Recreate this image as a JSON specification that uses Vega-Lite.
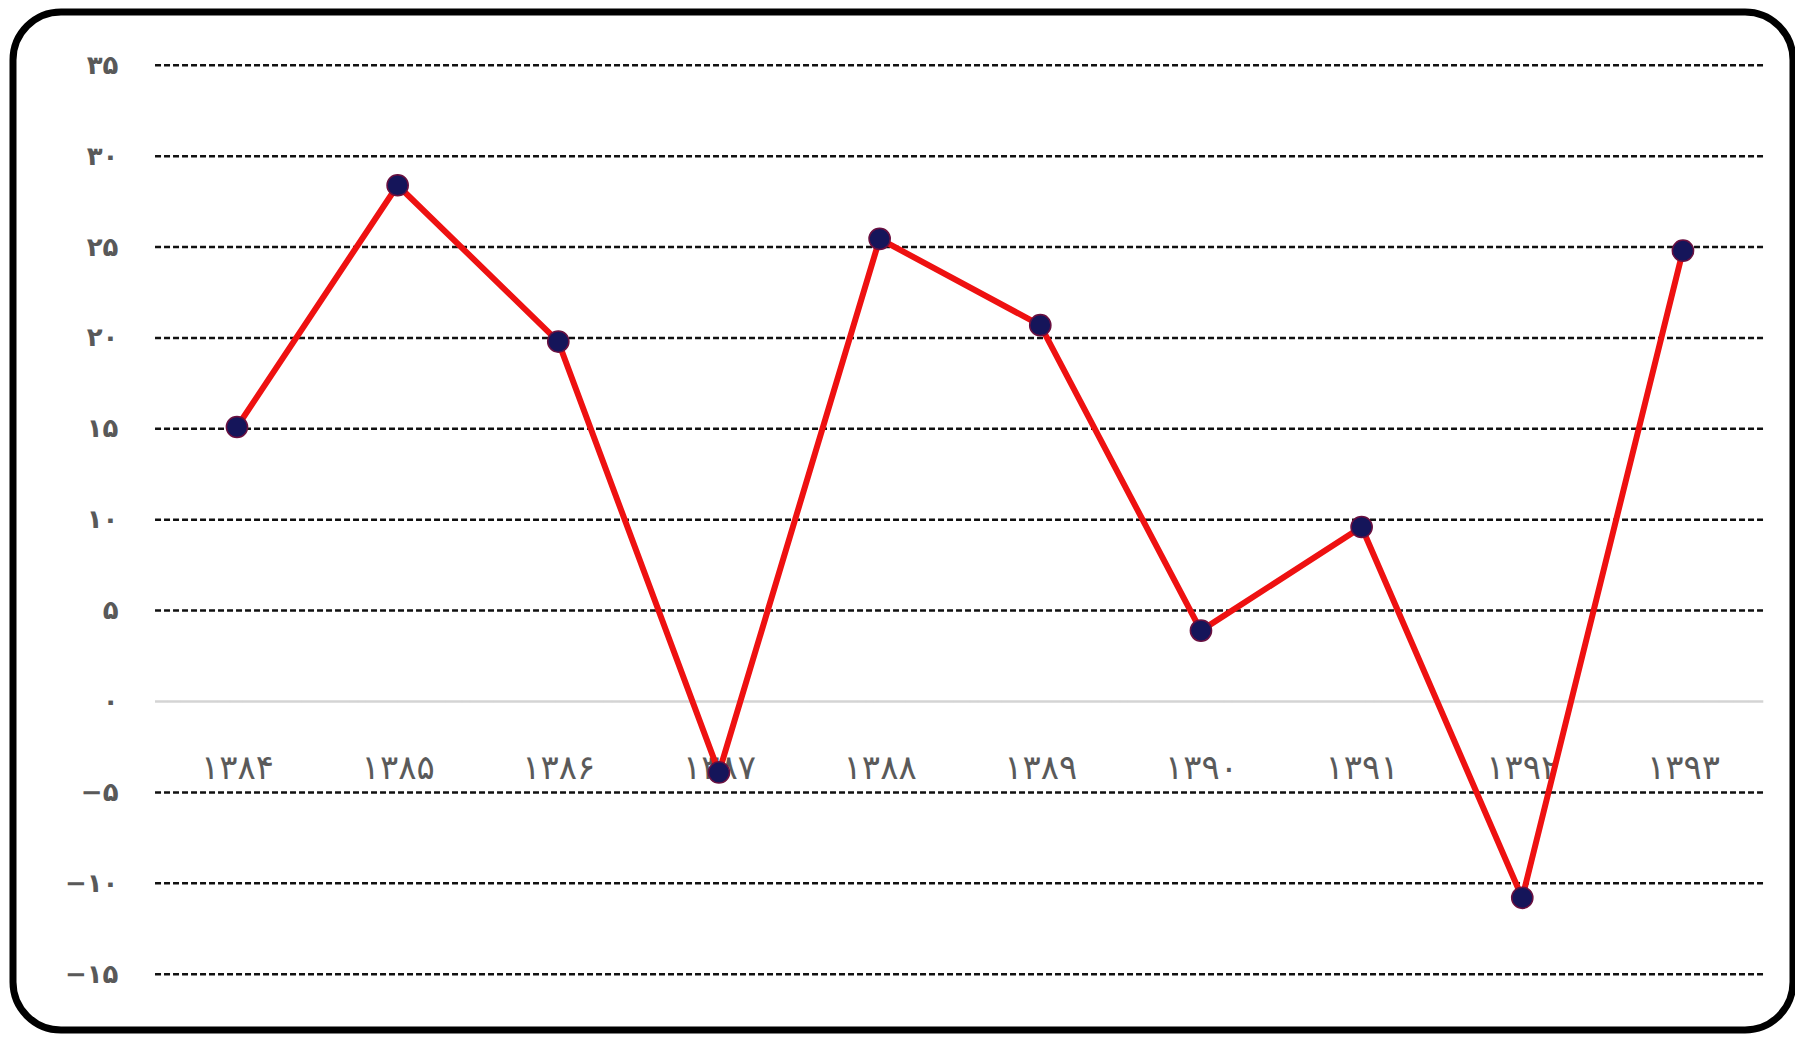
{
  "$schema": "https://vega.github.io/schema/vega-lite/v6.json",
  "width": 1780,
  "height": 1018,
  "autosize": "none",
  "padding": {"left": 13, "top": 12, "right": 2, "bottom": 11},
  "background": "white",
  "config": {
    "view": {"stroke": "#000000", "strokeWidth": 7, "cornerRadius": 48, "fill": "white"},
    "font": "DejaVu Sans",
    "axisX": {
      "orient": "bottom", "offset": -262, "values": [1384, 1385, 1386, 1387, 1388, 1389, 1390, 1391, 1392, 1393],
      "format": "d", "title": null, "domain": false, "ticks": false, "tickSize": 0, "grid": false,
      "labelPadding": 0, "labelBaseline": "middle", "labelFontSize": 34, "labelColor": "#5a5a5a",
      "labelFont": "DejaVu Sans", "labelFlush": false, "labelOverlap": false
    },
    "axisY": {
      "orient": "left", "offset": -108, "values": [-15, -10, -5, 0, 5, 10, 15, 20, 25, 30, 35],
      "title": null, "domain": false, "ticks": false, "tickSize": 0, "grid": false,
      "labelPadding": 3, "labelFontSize": 26, "labelFontWeight": "bold", "labelColor": "#595959",
      "labelFont": "DejaVu Sans", "labelOverlap": false, "labelFlush": false
    }
  },
  "datasets": {
    "series": [
      {"year": 1384, "value": 15.1},
      {"year": 1385, "value": 28.4},
      {"year": 1386, "value": 19.8},
      {"year": 1387, "value": -3.9},
      {"year": 1388, "value": 25.45},
      {"year": 1389, "value": 20.7},
      {"year": 1390, "value": 3.9},
      {"year": 1391, "value": 9.6},
      {"year": 1392, "value": -10.8},
      {"year": 1393, "value": 24.8}
    ],
    "grid": [
      {"v": 35, "from": 1383.49, "to": 1393.5, "kind": "dash"},
      {"v": 30, "from": 1383.49, "to": 1393.5, "kind": "dash"},
      {"v": 25, "from": 1383.49, "to": 1393.5, "kind": "dash"},
      {"v": 20, "from": 1383.49, "to": 1393.5, "kind": "dash"},
      {"v": 15, "from": 1383.49, "to": 1393.5, "kind": "dash"},
      {"v": 10, "from": 1383.49, "to": 1393.5, "kind": "dash"},
      {"v": 5, "from": 1383.49, "to": 1393.5, "kind": "dash"},
      {"v": 0, "from": 1383.49, "to": 1393.5, "kind": "solid"},
      {"v": -5, "from": 1383.49, "to": 1393.5, "kind": "dash"},
      {"v": -10, "from": 1383.49, "to": 1393.5, "kind": "dash"},
      {"v": -15, "from": 1383.49, "to": 1393.5, "kind": "dash"}
    ]
  },
  "encoding": {
    "x": {
      "type": "quantitative",
      "scale": {"domain": [1382.606, 1393.685], "nice": false, "zero": false},
      "axis": {
        "values": [1384, 1385, 1386, 1387, 1388, 1389, 1390, 1391, 1392, 1393],
        "labelExpr": "replace(replace(replace(replace(replace(replace(replace(replace(replace(replace(datum.label, regexp('0','g'), '۰'), regexp('1','g'), '۱'), regexp('2','g'), '۲'), regexp('3','g'), '۳'), regexp('4','g'), '۴'), regexp('5','g'), '۵'), regexp('6','g'), '۶'), regexp('7','g'), '۷'), regexp('8','g'), '۸'), regexp('9','g'), '۹')"
      }
    },
    "y": {
      "type": "quantitative",
      "scale": {"domain": [-18.07, 37.93], "nice": false, "zero": false},
      "axis": {
        "values": [-15, -10, -5, 0, 5, 10, 15, 20, 25, 30, 35],
        "labelExpr": "replace(replace(replace(replace(replace(replace(replace(replace(replace(replace(datum.label, regexp('0','g'), '۰'), regexp('1','g'), '۱'), regexp('2','g'), '۲'), regexp('3','g'), '۳'), regexp('4','g'), '۴'), regexp('5','g'), '۵'), regexp('6','g'), '۶'), regexp('7','g'), '۷'), regexp('8','g'), '۸'), regexp('9','g'), '۹')"
      }
    }
  },
  "layer": [
    {
      "data": {"name": "grid"},
      "mark": {"type": "rule", "strokeWidth": 2.5},
      "encoding": {
        "x": {"field": "from"},
        "x2": {"field": "to"},
        "y": {"field": "v"},
        "color": {"field": "kind", "type": "nominal", "scale": {"domain": ["dash", "solid"], "range": ["#111111", "#d4d4d4"]}, "legend": null},
        "strokeDash": {"field": "kind", "type": "nominal", "scale": {"domain": ["dash", "solid"], "range": [[6, 3], [1, 0]]}, "legend": null}
      }
    },
    {
      "data": {"name": "series"},
      "mark": {"type": "line", "color": "#ee1111", "strokeWidth": 6},
      "encoding": {
        "x": {"field": "year"},
        "y": {"field": "value"}
      }
    },
    {
      "data": {"name": "series"},
      "mark": {"type": "point", "filled": true, "size": 450, "color": "#15155a", "stroke": "#6a1040", "strokeWidth": 1.5, "opacity": 1},
      "encoding": {
        "x": {"field": "year"},
        "y": {"field": "value"}
      }
    }
  ]
}
